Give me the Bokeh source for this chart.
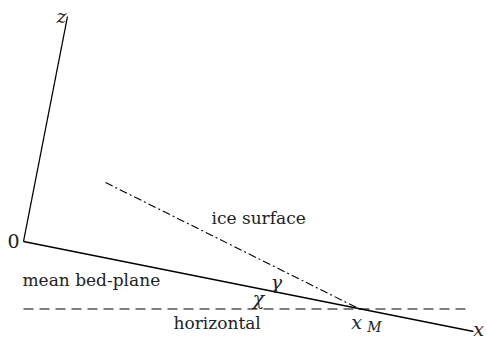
from bokeh.plotting import figure
from bokeh.models import Range1d
from bokeh.core.properties import value
from bokeh.embed import file_html
from bokeh.resources import INLINE

# geometry of the sketch (pixel-like coordinates, y downward)
z_axis_x = [23, 67]
z_axis_y = [241, 16]
x_axis_x = [23, 473]
x_axis_y = [241, 331]
horiz_x = [23, 468]
horiz_y = [308.5, 308.5]
ice_x = [105, 360]
ice_y = [182, 309]

labels = ["mean bed-plane", "ice surface", "horizontal"]
label_x = [22, 211, 173]
label_y = [279, 217, 322]

math_labels = ["z", "0", "\u03b3", "\u03c7", "x", "x"]
math_x = [61, 13, 276, 258, 356, 478]
math_y = [15, 240, 281, 297, 321, 328]
math_italic = ["italic", "normal", "italic", "italic", "italic", "italic"]

SERIF = value("DejaVu Serif")

p = figure(width=487, height=340, output_backend="svg", toolbar_location=None,
           x_range=Range1d(0, 487), y_range=Range1d(340, 0), min_border=0)
p.axis.visible = False
p.grid.visible = False
p.outline_line_color = None
p.background_fill_color = "white"

p.line(z_axis_x, z_axis_y, line_color="black", line_width=1.3)
p.line(x_axis_x, x_axis_y, line_color="black", line_width=1.3)
p.line(horiz_x, horiz_y, line_color="black", line_width=1.2, line_dash="10 6")
p.line(ice_x, ice_y, line_color="black", line_width=1.1, line_dash="8 3 2 3")

p.text(x=label_x, y=label_y, text=labels, text_font=SERIF,
       text_font_size="17px", text_align="left", text_baseline="middle", text_color="#222222")

for t, xx, yy, st in zip(math_labels, math_x, math_y, math_italic):
    p.text(x=[xx], y=[yy], text=[t], text_font=SERIF, text_font_style=st,
           text_font_size="19px", text_align="center", text_baseline="middle", text_color="#222222")

p.text(x=[374], y=[326], text=["M"], text_font=SERIF, text_font_style="italic",
       text_font_size="14px", text_align="center", text_baseline="middle", text_color="#222222")

open("out.html", "w").write(file_html(p, INLINE))
